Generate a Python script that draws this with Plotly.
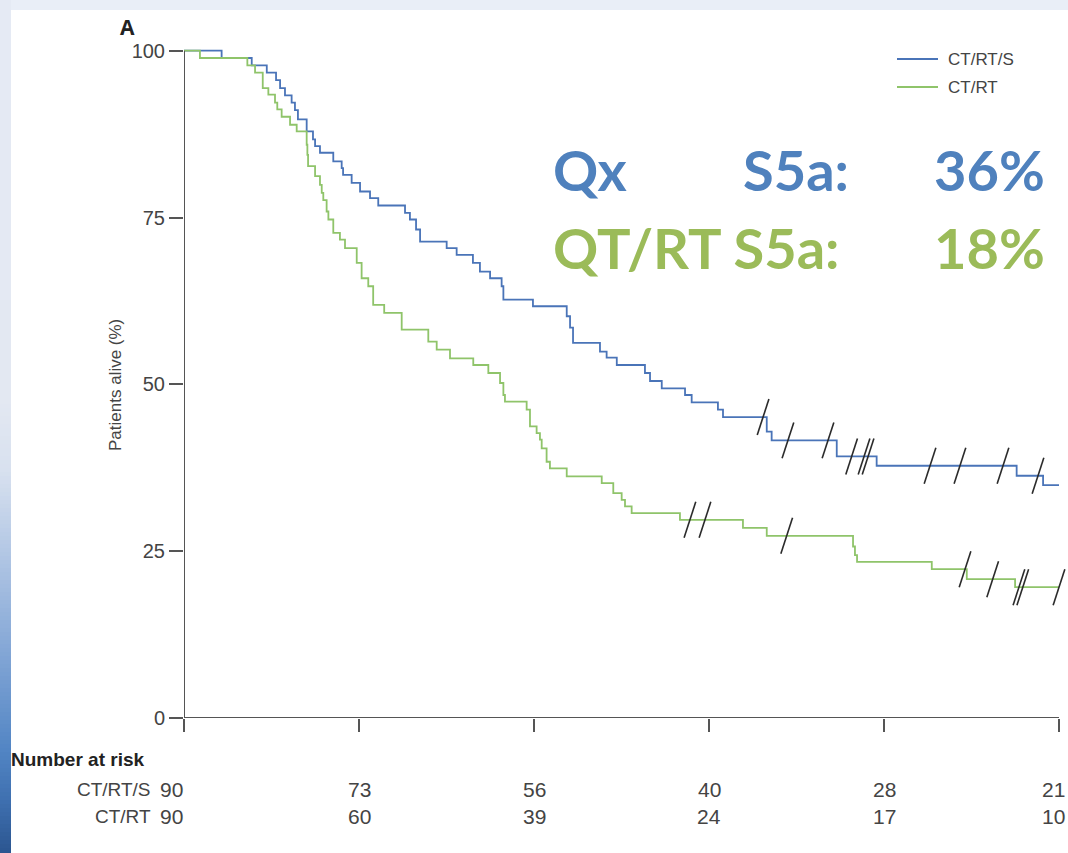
import plotly.graph_objects as go

# ---------------- data (years, % alive) ----------------
blue_t = [0.215, 0.387, 0.473, 0.526, 0.549, 0.577, 0.615, 0.634, 0.651, 0.701,
          0.737, 0.749, 0.777, 0.853, 0.901, 0.909, 0.958, 1.006, 1.063, 1.110,
          1.263, 1.291, 1.326, 1.349, 1.501, 1.558, 1.651, 1.691, 1.749, 1.815,
          1.825, 1.994, 2.187, 2.206, 2.223, 2.377, 2.415, 2.473, 2.634, 2.663,
          2.730, 2.863, 2.901, 3.051, 3.080, 3.330, 3.358, 3.730, 3.958, 4.758,
          4.909]
blue_s = [98.9, 97.8, 96.7, 95.6, 94.4, 93.3, 92.2, 91.1, 89.7, 87.9,
          86.7, 85.7, 84.7, 83.4, 82.4, 81.4, 80.2, 78.9, 77.9, 76.8,
          75.7, 74.7, 73.2, 71.4, 70.4, 69.4, 68.2, 66.9, 65.9, 64.7,
          62.7, 61.7, 60.2, 58.5, 56.2, 54.9, 54.0, 52.9, 51.7, 50.5,
          49.4, 48.4, 47.3, 46.2, 45.1, 42.9, 41.6, 39.2, 37.8, 36.3,
          34.9]
green_t = [0.091, 0.362, 0.406, 0.450, 0.482, 0.520, 0.533, 0.558, 0.606, 0.644,
           0.701, 0.705, 0.709, 0.749, 0.777, 0.787, 0.796, 0.815, 0.825, 0.853,
           0.891, 0.920, 0.987, 1.015, 1.053, 1.081, 1.144, 1.244, 1.396, 1.444,
           1.520, 1.653, 1.739, 1.806, 1.825, 1.834, 1.958, 1.977, 2.015, 2.034,
           2.044, 2.072, 2.091, 2.187, 2.387, 2.453, 2.501, 2.520, 2.558, 2.834,
           3.194, 3.330, 3.823, 3.834, 3.846, 4.273, 4.473, 4.749]
green_s = [98.9, 97.8, 96.7, 94.4, 93.4, 92.2, 91.2, 90.1, 88.9, 87.9,
           85.9, 84.4, 82.7, 81.2, 79.9, 78.7, 77.6, 75.9, 74.7, 72.7,
           71.7, 70.4, 68.2, 65.9, 64.7, 61.9, 60.7, 58.2, 56.4, 55.2,
           53.9, 52.9, 51.7, 50.2, 48.4, 47.4, 46.2, 43.7, 42.7, 41.7,
           40.4, 38.4, 37.4, 36.2, 35.2, 33.7, 32.7, 31.7, 30.7, 29.7,
           28.5, 27.3, 25.7, 24.4, 23.4, 22.3, 20.8, 19.6]
blue_cens_t = [3.309, 3.451, 3.680, 3.815, 3.886, 3.909, 4.263, 4.434, 4.680, 4.880]
green_cens_t = [2.891, 2.977, 3.444, 4.463, 4.621, 4.771, 4.793, 5.0]

risk_times = [0, 1, 2, 3, 4, 5]
risk_ctrts = [90, 73, 56, 40, 28, 21]
risk_ctrt = [90, 60, 39, 24, 17, 10]
y_ticks = [0, 25, 50, 75, 100]
series_names = ["CT/RT/S", "CT/RT"]
s5a_labels = ["Qx", "S5a:", "36%", "QT/RT S5a:", "18%"]

# ---------------- style ----------------
W, H = 1068, 853
L, R, T, B = 184, 9, 44, 135
PW, PH = W - L - R, H - T - B
BLUE = "#4a74b8"
GREEN = "#8fc46a"
TBLUE = "#4f81bd"
TGREEN = "#9bbb59"
AXC = "#555555"
NARROW = "Liberation Sans Narrow, Arial Narrow, Liberation Sans, sans-serif"


def px(x):
    return (x - L) / PW


def py(y):
    return (H - B - y) / PH


def step_value(ts, ss, t):
    v = 100.0
    for ti, si in zip(ts, ss):
        if ti <= t:
            v = si
    return v


fig = go.Figure()

fig.add_trace(go.Scatter(x=[0] + blue_t + [5], y=[100] + blue_s + [blue_s[-1]],
                         mode="lines", line=dict(color=BLUE, width=1.8, shape="hv"),
                         name=series_names[0], showlegend=False))
fig.add_trace(go.Scatter(x=[0] + green_t + [5], y=[100] + green_s + [green_s[-1]],
                         mode="lines", line=dict(color=GREEN, width=1.8, shape="hv"),
                         name=series_names[1], showlegend=False))

for ct, ts, ss in [(blue_cens_t, blue_t, blue_s), (green_cens_t, green_t, green_s)]:
    fig.add_trace(go.Scatter(x=ct, y=[step_value(ts, ss, t) for t in ct], mode="markers",
                             marker=dict(symbol="line-ns", size=27, angle=18,
                                         line=dict(color="#2b2b2b", width=1.6)),
                             cliponaxis=False, showlegend=False))

shapes = []
# background: top band colour + left gradient strip + white panel
stops = [(0, (229, 234, 244)), (400, (227, 232, 242)), (470, (216, 225, 239)),
         (550, (180, 200, 229)), (650, (132, 167, 214)), (750, (82, 133, 196)),
         (800, (63, 112, 176)), (853, (43, 86, 144))]


def grad(y):
    for (y0, c0), (y1, c1) in zip(stops[:-1], stops[1:]):
        if y0 <= y <= y1:
            f = (y - y0) / (y1 - y0)
            return "rgb(%d,%d,%d)" % tuple(round(a + (b - a) * f) for a, b in zip(c0, c1))
    return "rgb(43,86,144)"


step = 4
for y in range(0, H, step):
    shapes.append(dict(type="rect", xref="paper", yref="paper", layer="below",
                       x0=px(0), x1=px(11), y0=py(y), y1=py(y + step + 0.5),
                       fillcolor=grad(y + step / 2), line=dict(width=0)))
shapes.append(dict(type="rect", xref="paper", yref="paper", layer="below",
                   x0=px(11), x1=px(W + 2), y0=py(10), y1=py(H + 2),
                   fillcolor="white", line=dict(width=0)))
# axis lines
shapes.append(dict(type="line", xref="x", yref="y", x0=0, x1=0, y0=0, y1=100,
                   line=dict(color=AXC, width=2)))
shapes.append(dict(type="line", xref="x", yref="y", x0=0, x1=5, y0=0, y1=0,
                   line=dict(color=AXC, width=2)))
# legend lines
for i, c in enumerate([BLUE, GREEN]):
    yy = 59 + 28 * i
    shapes.append(dict(type="line", xref="paper", yref="paper", x0=px(897), x1=px(938),
                       y0=py(yy), y1=py(yy), line=dict(color=c, width=2)))

ann = []
for i, name in enumerate(series_names):
    ann.append(dict(text=name, xref="paper", yref="paper", x=px(946), y=py(59 + 28 * i),
                    xanchor="left", yanchor="middle", showarrow=False,
                    font=dict(family=NARROW, size=17, color="#444444")))

ann.append(dict(text="<b>A</b>", xref="paper", yref="paper", x=px(127), y=py(27),
                xanchor="center", yanchor="middle", showarrow=False,
                font=dict(family="Open Sans, sans-serif", size=21, color="#222222")))

ann.append(dict(text="Patients alive (%)", xref="paper", yref="paper", x=px(115), y=py(385),
                xanchor="center", yanchor="middle", textangle=-90, showarrow=False,
                font=dict(family=NARROW, size=17, color="#444444")))

big = dict(family="Lato, sans-serif", size=56)
y1, y2 = 169, 247
ann.append(dict(text="<b>%s</b>" % s5a_labels[0], xref="paper", yref="paper", x=px(551), y=py(y1),
                xanchor="left", yanchor="middle", showarrow=False, font=dict(color=TBLUE, **big)))
ann.append(dict(text="<b>%s</b>" % s5a_labels[1], xref="paper", yref="paper", x=px(741), y=py(y1),
                xanchor="left", yanchor="middle", showarrow=False, font=dict(color=TBLUE, **big)))
ann.append(dict(text="<b>%s</b>" % s5a_labels[2], xref="paper", yref="paper", x=px(1047), y=py(y1),
                xanchor="right", yanchor="middle", showarrow=False, font=dict(color=TBLUE, **big)))
ann.append(dict(text="<b>%s</b>" % s5a_labels[3], xref="paper", yref="paper", x=px(551), y=py(y2),
                xanchor="left", yanchor="middle", showarrow=False, font=dict(color=TGREEN, **big)))
ann.append(dict(text="<b>%s</b>" % s5a_labels[4], xref="paper", yref="paper", x=px(1047), y=py(y2),
                xanchor="right", yanchor="middle", showarrow=False, font=dict(color=TGREEN, **big)))

# number at risk table
ann.append(dict(text="<b>Number at risk</b>", xref="paper", yref="paper", x=px(9), y=py(759),
                xanchor="left", yanchor="middle", showarrow=False,
                font=dict(family=NARROW, size=19, color="#222222")))
for row, (name, vals) in enumerate([(series_names[0], risk_ctrts), (series_names[1], risk_ctrt)]):
    yy = py(789 + 27 * row)
    ann.append(dict(text=name, xref="paper", yref="paper", x=px(153), y=yy,
                    xanchor="right", yanchor="middle", showarrow=False,
                    font=dict(family=NARROW, size=19, color="#444444")))
    n = len(vals)
    for j, (t, v) in enumerate(zip(risk_times, vals)):
        last = j == n - 1
        ann.append(dict(text=str(v), xref="paper" if last else "x", yref="paper",
                        x=px(1067) if last else t, y=yy,
                        xanchor="right" if last else "center", yanchor="middle", showarrow=False,
                        xshift=-13 if j == 0 else 0,
                        font=dict(family=NARROW, size=21, color="#444444")))

fig.update_layout(
    width=W, height=H,
    margin=dict(l=L, r=R, t=T, b=B, pad=0),
    paper_bgcolor="rgb(233,238,247)",
    plot_bgcolor="rgba(0,0,0,0)",
    shapes=shapes, annotations=ann,
    xaxis=dict(range=[0, 5], tickvals=risk_times, showticklabels=False, ticks="outside",
               ticklen=13, tickwidth=2, tickcolor=AXC, showgrid=False, zeroline=False,
               showline=False, fixedrange=True),
    yaxis=dict(range=[0, 101], tickvals=y_ticks, ticks="outside", ticklen=14, tickwidth=2,
               tickcolor=AXC, showgrid=False, zeroline=False, showline=False,
               tickfont=dict(family=NARROW, size=20, color="#444444"), fixedrange=True),
)

fig.write_html("out.html", config={"displayModeBar": False},
               post_script="document.body.style.margin='0px';")
